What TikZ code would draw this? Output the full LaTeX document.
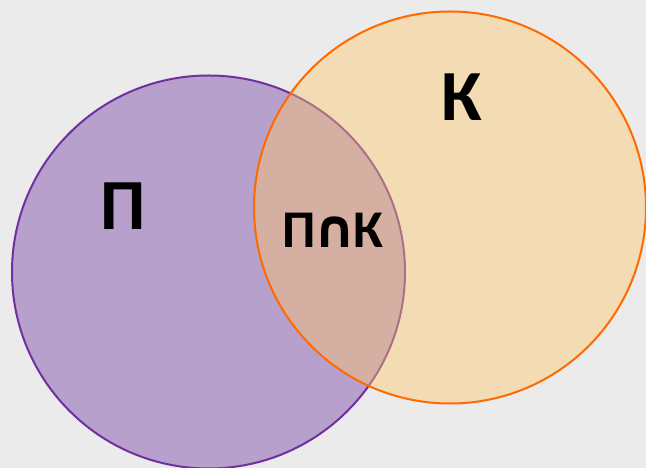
\documentclass[tikz,border=0pt]{standalone}
\usepackage{fontspec}
\setmainfont{Carlito}
\newfontfamily\symfont{DejaVu Sans}
\definecolor{bgc}{HTML}{EBEBEB}
\definecolor{pfill}{HTML}{B8A0CC}
\definecolor{pline}{HTML}{7030A0}
\definecolor{ofill}{RGB}{255,200,104}
\definecolor{oline}{HTML}{FF6A00}
\tikzset{lbl/.style={font=\bfseries, text=black, inner sep=0pt}}
\begin{document}
\begin{tikzpicture}[x=1pt,y=1pt]
\fill[bgc] (0,0) rectangle (646,468);
\useasboundingbox (0,0) rectangle (646,468);
\node[circle, draw=pline, line width=2pt, fill=pfill, minimum size=393pt, inner sep=0pt] (P) at (208.5,196) {};
\node[circle, fill=ofill, fill opacity=0.42, minimum size=392pt, inner sep=0pt] (Kf) at (450,260.5) {};
\node[circle, draw=oline, line width=2pt, minimum size=392pt, inner sep=0pt] (K) at (450,260.5) {};
\node[lbl, font=\bfseries\fontsize{72}{72}\selectfont] (tP) at (123,262) {П};
\node[lbl, font=\bfseries\fontsize{72}{72}\selectfont] (tK) at (462,371) {К};
\node[lbl, font=\bfseries\fontsize{53}{53}\selectfont] (tPK) at (333,238) {П\kern-3pt{\symfont ∩}\kern-3ptК};
\end{tikzpicture}
\end{document}
